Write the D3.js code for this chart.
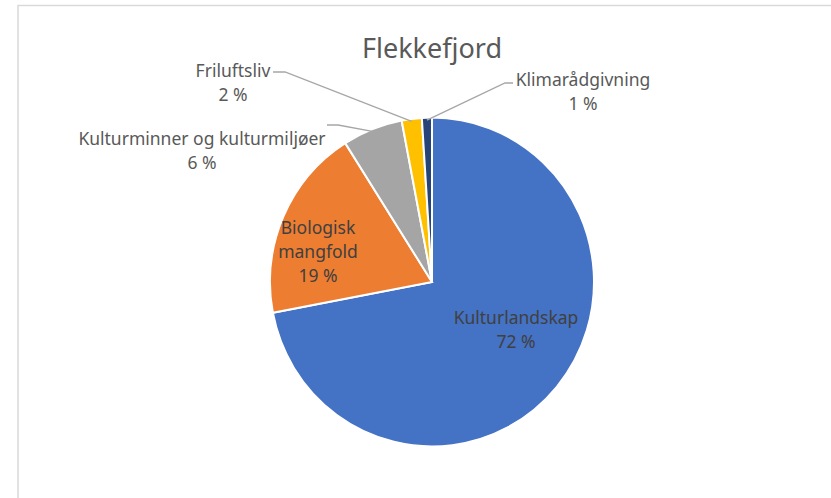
<!DOCTYPE html>
<html>
<head>
<meta charset="utf-8">
<script src="https://cdn.jsdelivr.net/npm/d3@7"></script>
<style>
  body { margin: 0; background: #fff; }
  svg { display: block; }
  text { font-family: "Noto Sans", "Open Sans", sans-serif; }
</style>
</head>
<body>
<script>
// data
const categories = ['Kulturlandskap', 'Biologisk mangfold', 'Kulturminner og kulturmiljøer', 'Friluftsliv', 'Klimarådgivning'];
const values = [72, 19, 6, 2, 1];
const colors = ['#4472C4', '#ED7D31', '#A5A5A5', '#FFC000', '#264478'];
const labelLines = [['Kulturlandskap'], ['Biologisk', 'mangfold'], ['Kulturminner og kulturmiljøer'], ['Friluftsliv'], ['Klimarådgivning']];

const width = 831, height = 498;
const cx = 432, cy = 282, r = 162;

// where the labels sit, relative to the pie centre (layout only)
const labelPos = [
  { dx: 84, dy: 48, inside: true },
  { dx: -114, dy: -30, inside: true },
  { dx: -230, dy: -131, elbow: [-94, -157], end: [-105, -157] },
  { dx: -199, dy: -199, elbow: [-147, -210], end: [-159, -210] },
  { dx: 151, dy: -190, elbow: [73, -199], end: [81, -199] }
];

const svg = d3.select('body').append('svg')
  .attr('width', width)
  .attr('height', height);

// chart frame
svg.append('path')
  .attr('d', `M18,${height} V5.5 H${width}`)
  .attr('fill', 'none')
  .attr('stroke', '#d9d9d9')
  .attr('stroke-width', 1.5);

svg.append('text')
  .attr('x', cx)
  .attr('y', 58)
  .attr('text-anchor', 'middle')
  .attr('font-size', 27)
  .attr('fill', '#595959')
  .text('Flekkefjord');

const pie = d3.pie().sort(null).value((d) => d);
const arcs = pie(values);
const arc = d3.arc().innerRadius(0).outerRadius(r);
const edge = d3.arc().innerRadius(r).outerRadius(r);

const g = svg.append('g').attr('transform', `translate(${cx},${cy})`);

g.append('g')
  .attr('transform', 'scale(1,1.015)')
  .selectAll('path.slice')
  .data(arcs)
  .enter()
  .append('path')
  .attr('class', 'slice')
  .attr('d', arc)
  .attr('fill', (d, i) => colors[i])
  .attr('stroke', '#fff')
  .attr('stroke-width', 2);

// leader lines for the outside labels
arcs.forEach((d, i) => {
  const p = labelPos[i];
  if (p.inside) return;
  const s = edge.centroid(d);
  g.append('polyline')
    .attr('points', [s, p.elbow, p.end].map((q) => q.join(',')).join(' '))
    .attr('fill', 'none')
    .attr('stroke', '#a6a6a6')
    .attr('stroke-width', 1.3);
});

arcs.forEach((d, i) => {
  const p = labelPos[i];
  const lines = labelLines[i].concat([values[i] + ' %']);
  const t = g.append('text')
    .attr('text-anchor', 'middle')
    .attr('font-size', 17.5)
    .attr('fill', p.inside ? '#404040' : '#595959');
  const top = p.dy - (lines.length - 1) * 24 / 2;
  lines.forEach((line, k) => {
    t.append('tspan')
      .attr('x', p.dx)
      .attr('y', top + k * 24 + 6)
      .text(line);
  });
});
</script>
</body>
</html>
